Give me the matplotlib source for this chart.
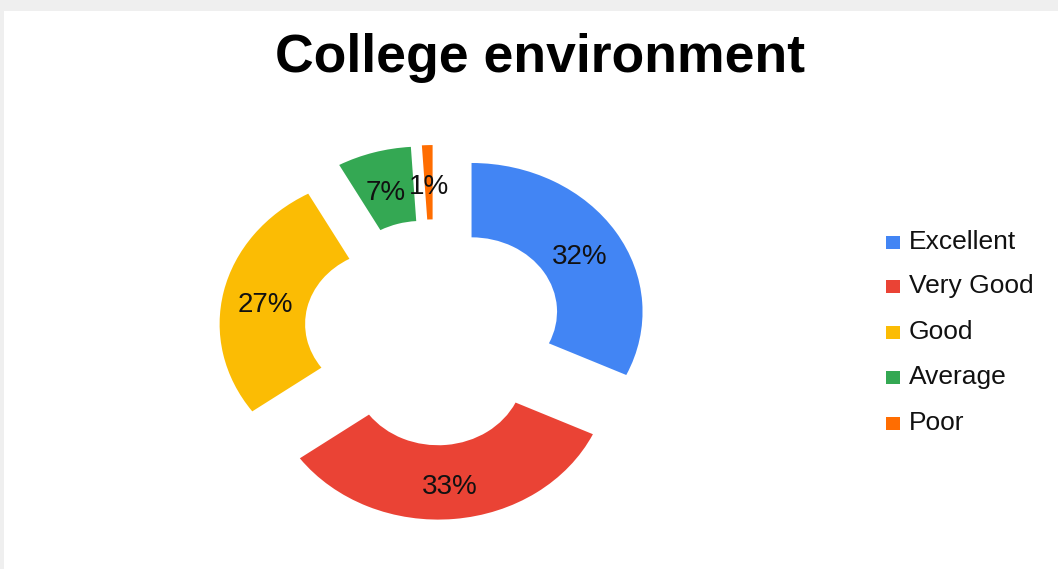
import matplotlib
matplotlib.use("Agg")
import matplotlib.pyplot as plt
from matplotlib.patches import Rectangle
from matplotlib.transforms import ScaledTranslation

categories = ["Excellent", "Very Good", "Good", "Average", "Poor"]
values = [32, 33, 27, 7, 1]
colors = ["#4285F4", "#EA4335", "#FBBC04", "#34A853", "#FF6D01"]
title = "College environment"

W, H = 1058, 569
fig = plt.figure(figsize=(W / 100, H / 100), dpi=100)
fig.patch.set_facecolor("#efefef")
fig.patches.append(Rectangle((4 / W, 0), 1, 1 - 11 / H, transform=fig.transFigure,
                             facecolor="white", edgecolor="none", zorder=-5))

# pie axes: centre (434, 332.4) px, Rx=171, Ry=148.7
cx, cy, rx, ry, lim = 434, 332.4, 171, 148.7, 1.3
ax = fig.add_axes([(cx - lim * rx) / W, (H - cy - lim * ry) / H,
                   2 * lim * rx / W, 2 * lim * ry / H])
ax.set_zorder(2)
ax.patch.set_alpha(0)
wedges, texts, autotexts = ax.pie(
    values, explode=[0.26] * len(values), startangle=90, counterclock=False,
    colors=colors, wedgeprops=dict(width=0.5, linewidth=0),
    autopct="%.0f%%", pctdistance=0.75,
    textprops=dict(fontsize=20, family="Liberation Sans", color="#111111"))
shift = ScaledTranslation(0, -5 / 100, fig.dpi_scale_trans)
for t in autotexts:
    t.set_transform(t.get_transform() + shift)
ax.set_aspect("auto")
ax.set_xlim(-lim, lim)
ax.set_ylim(-lim, lim)
ax.axis("off")

fig.text(540 / W, 1 - 72 / H, title, ha="center", va="baseline",
         fontsize=38.5, fontweight="bold", family="Liberation Sans", color="black")

baselines = [249.3, 293.3, 338.7, 384.3, 430]
for lab, col, b in zip(categories, colors, baselines):
    fig.patches.append(Rectangle((886 / W, 1 - b / H), 14 / W, 13 / H,
                                 transform=fig.transFigure, facecolor=col,
                                 edgecolor="none", zorder=3))
    fig.text(909 / W, 1 - b / H, lab, ha="left", va="baseline", fontsize=19,
             family="Liberation Sans", color="#111111")

fig.savefig("out.png", dpi=100, facecolor=fig.get_facecolor())
